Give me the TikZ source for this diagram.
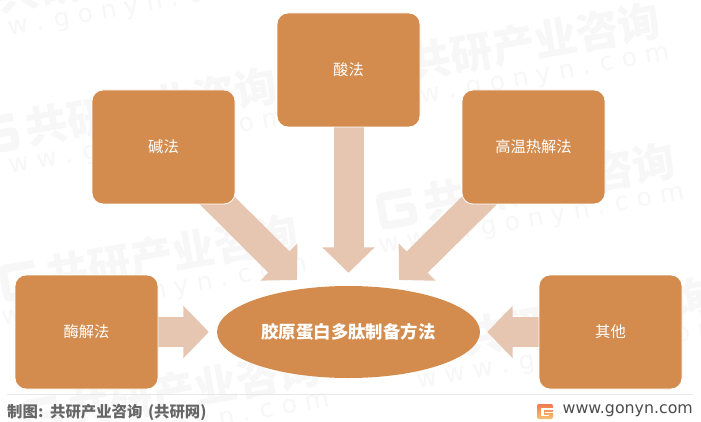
\documentclass[tikz,border=0pt]{standalone}
\usepackage{fontspec}
\setmainfont{Noto Sans CJK SC}
\newfontfamily\webfont{DejaVu Sans}
\usetikzlibrary{arrows.meta,shapes.geometric}
\definecolor{boxc}{HTML}{D38C4E}
\definecolor{arrc}{HTML}{E6C5B1}
\definecolor{wm}{HTML}{F7F7F7}
\definecolor{foot}{HTML}{666666}
\definecolor{logotop}{HTML}{F07A50}
\definecolor{logobot}{HTML}{F8C070}
\pgfdeclarelayer{bg}
\pgfdeclarelayer{wmk}
\pgfsetlayers{wmk,bg,main}
\tikzset{
 x=1pt,y=-1pt,
 methodbox/.style={draw=white,line width=0.8pt,fill=boxc,rounded corners=11pt,minimum width=143pt,minimum height=114pt,inner sep=0pt,text=white,font=\fontsize{15.3pt}{17pt}\selectfont},
 corebox/.style={ellipse,fill=boxc,minimum width=263pt,minimum height=92pt,inner sep=0pt,text=white,font=\fontsize{17.4pt}{20pt}\selectfont\bfseries},
 blockarrow/.style={draw=arrc,line width=30pt,-{Triangle[width=51pt,length=25.5pt,fill=arrc]}},
 wmcn/.style={text=wm,font=\fontsize{42.5pt}{44pt}\selectfont\bfseries,inner sep=0pt},
 wmen/.style={text=wm,font=\fontsize{25pt}{28pt}\selectfont\webfont,inner sep=0pt},
}
\newcommand{\wmset}[2]{%
 \begin{scope}[shift={(#1,#2)},rotate=10,transform shape]
  \draw[wm,line width=8pt,rounded corners=3pt] (-32,-14) -- (-64,-14) -- (-64,15) -- (-34,15) -- (-34,0) -- (-50,0);
  \node[wmcn] at (106,0) {共研产业咨询};
  \node[wmen] at (82,37) {w w w . g o n y n . c o m};
 \end{scope}}
\begin{document}
\begin{tikzpicture}
\useasboundingbox (0,0) rectangle (701,422);
\begin{pgfonlayer}{wmk}
\fill[white] (0,0) rectangle (701,422);
\wmset{18}{-8}
\wmset{430}{60}
\wmset{47}{125}
\wmset{445}{200}
\wmset{68}{272}
\wmset{483}{335}
\wmset{90}{407}
\end{pgfonlayer}
% nodes
\node[corebox] (core) at (348.5,332) {胶原蛋白多肽制备方法};
\node[methodbox] (a) at (86.5,332) {酶解法};
\node[methodbox] (b) at (163.5,147) {碱法};
\node[methodbox] (c) at (348.5,70) {酸法};
\node[methodbox] (d) at (533.5,147) {高温热解法};
\node[methodbox] (e) at (610.5,332) {其他};
\coordinate (tipL) at (297,280);
\coordinate (tipR) at (399,280);
% connectors
\begin{pgfonlayer}{bg}
\draw[blockarrow,shorten >=8pt] (a.center) -- (core.west);
\draw[blockarrow,shorten >=7pt] (e.center) -- (core.east);
\draw[blockarrow,shorten >=13pt] (c.center) -- (core.north);
\draw[blockarrow] (b.center) -- (tipL);
\draw[blockarrow] (d.center) -- (tipR);
\end{pgfonlayer}
% footer
\coordinate (fl) at (7,394.5);
\coordinate (fr) at (693,394.5);
\draw[draw=black!9,line width=1pt] (fl) -- (fr);
\node[anchor=west,inner sep=0pt,text=foot,font=\fontsize{15.4pt}{17pt}\selectfont\bfseries] (src) at (7,412) {制图:\hspace{2pt} 共研产业咨询\hspace{2pt} (共研网)};
\node[anchor=east,inner sep=0pt,text=foot!75!black,font=\fontsize{15.8pt}{17pt}\selectfont\webfont] (url) at (693,411) {www.gonyn.com};
% logo
\shade[top color=logotop,bottom color=logobot,rounded corners=2pt] (537,404) rectangle (553,419);
\fill[white] (541,408) rectangle (553.5,410);
\fill[white] (541,410) rectangle (544,415);
\fill[white] (541,415) rectangle (549,416);
\fill[white] (545,412) rectangle (553.5,413.2);
\end{tikzpicture}
\end{document}
